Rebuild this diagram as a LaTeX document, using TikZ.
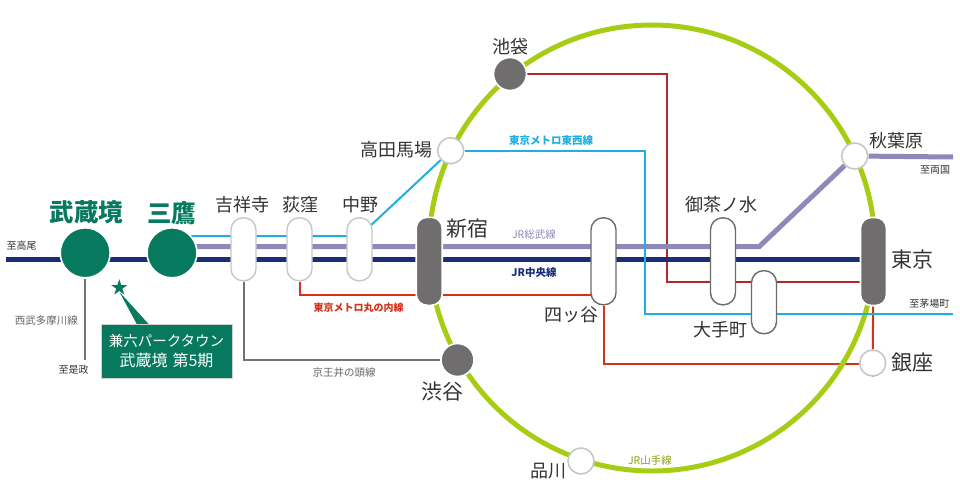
\documentclass[tikz,border=0pt]{standalone}
\usepackage{fontspec}
\setmainfont{Noto Sans CJK JP}
\usetikzlibrary{shapes.geometric,backgrounds}
\definecolor{ringgreen}{HTML}{A6CC14}
\definecolor{sitegreen}{HTML}{07795F}
\definecolor{chuonavy}{HTML}{1A2E78}
\definecolor{sobupurple}{HTML}{8F88B9}
\definecolor{tozaicyan}{HTML}{1FAEE0}
\definecolor{marured}{HTML}{D2321E}
\definecolor{ikered}{HTML}{B5262C}
\definecolor{hubgray}{HTML}{6F6D6E}
\definecolor{inkgray}{HTML}{333333}
\tikzset{
  stopdot/.style={circle,inner sep=0pt,minimum size=26pt,fill=white,draw=black!22,line width=1.6pt},
  hubdot/.style={circle,inner sep=0pt,minimum size=33pt,fill=hubgray,draw=white,line width=1.6pt},
  homedot/.style={circle,inner sep=0pt,minimum size=50pt,fill=sitegreen,draw=white,line width=1.6pt},
  pillbox/.style={rectangle,rounded corners=12pt,inner sep=0pt,minimum width=25pt,minimum height=63pt,fill=white,draw=black!22,line width=1.4pt},
  darkpill/.style={pillbox,draw=black!58},
  hubpill/.style={rectangle,rounded corners=11pt,inner sep=0pt,minimum width=26pt,minimum height=88pt,fill=hubgray,draw=white,line width=1.6pt},
  stationname/.style={inner sep=0pt,font=\fontsize{18}{18}\selectfont,text=inkgray},
  hubname/.style={inner sep=0pt,font=\fontsize{21}{21}\selectfont,text=inkgray},
  homename/.style={inner sep=0pt,font=\fontsize{24.5}{24.5}\selectfont\bfseries,text=sitegreen},
  endname/.style={inner sep=0pt,font=\fontsize{10}{10}\selectfont,text=inkgray},
  linename/.style={inner sep=0pt,font=\fontsize{10.5}{10.5}\selectfont}
}
\begin{document}
\begin{tikzpicture}[x=1pt,y=-1pt]
            \useasboundingbox (0,0) rectangle (960,500);
            \coordinate (ringc) at (652,248);
            \coordinate (takao) at (6,259.5);
            \coordinate (sobuw) at (172,246.5);
            \coordinate (tozaiw) at (172,236);
            \coordinate (sobubend) at (759.3,246.5);
            \coordinate (ryogoku) at (953,157);
            \coordinate (tozaibend) at (645,150.7);
            \coordinate (kayabacho) at (953,314);
            \coordinate (korekawa) at (85.2,360);
            \coordinate (ikebend) at (667,74);
            \coordinate (ikeend) at (873.5,282);
            \coordinate (marubend) at (299.5,295.3);
            \coordinate (yotsubend) at (603.5,364);
            \coordinate (keiobend) at (243.5,360);
            \coordinate (boxtipa) at (137,324.5);
            \coordinate (boxtipb) at (149,324.5);
            \coordinate (startip) at (119.5,292);
            %
            \node[homedot] (musashi) at (85.2,252.8) {};
            \node[homedot] (mitaka) at (172,252.8) {};
            \node[pillbox] (kichi) at (243.5,249.3) {};
            \node[pillbox] (ogi) at (299.5,249.3) {};
            \node[pillbox] (nakano) at (359.5,249.3) {};
            \node[hubpill] (shinjuku) at (429.2,261.3) {};
            \node[darkpill,minimum height=87pt] (yotsuya) at (603.5,261.3) {};
            \node[darkpill,minimum height=87pt] (ocha) at (723,261.3) {};
            \node[darkpill] (otemachi) at (764,302.2) {};
            \node[hubpill] (tokyo) at (873.5,261.5) {};
            \node[stopdot] (baba) at (450.7,150.7) {};
            \node[stopdot] (aki) at (854.7,156) {};
            \node[stopdot] (ginza) at (872.7,363) {};
            \node[stopdot] (shinagawa) at (581,461) {};
            \node[hubdot] (ikebukuro) at (510,74) {};
            \node[hubdot] (shibuya) at (457.5,360) {};
            %
            \begin{scope}[on background layer]
            \draw[marured,line width=2pt] (yotsuya) -- (yotsubend) -- (yotsubend -| ginza) -- (ginza);
            \draw[ringgreen,line width=5pt] (ringc) circle (223);
            \draw[marured,line width=2pt] (ogi) -- (marubend) -- (marubend -| yotsuya);
            \draw[marured,line width=2pt] (ginza) -- (tokyo);
            \draw[ikered,line width=2pt] (ikebukuro) -- (ikebend) -- (ikebend |- ikeend) -- (ikeend);
            \draw[chuonavy,line width=5pt] (takao) -- (takao -| tokyo);
            \draw[sobupurple,line width=5pt] (sobuw) -- (sobubend) -- (aki);
            \draw[sobupurple,line width=5pt] (aki) -- (ryogoku);
            \draw[tozaicyan,line width=2pt] (tozaiw) -- (tozaiw -| nakano) -- (baba);
            \draw[tozaicyan,line width=2pt] (baba) -- (tozaibend) -- (tozaibend |- kayabacho) -- (kayabacho);
            \draw[black!55,line width=2pt] (kichi) -- (keiobend) -- (shibuya);
            \draw[black!55,line width=2pt] (musashi) -- (korekawa);
            \end{scope}
            %
            \node[homename] (musashiname) at (86.3,212.7) {武蔵境};
            \node[homename] (mitakaname) at (171.7,213) {三鷹};
            \node[stationname] (kichiname) at (242.3,205) {吉祥寺};
            \node[stationname] (oginame) at (300,205) {荻窪};
            \node[stationname] (nakanoname) at (360,205) {中野};
            \node[stationname] (babaname) at (396.7,149.3) {高田馬場};
            \node[stationname] (ikename) at (510,47) {池袋};
            \node[stationname] (yotsuname) at (571.7,315) {四ッ谷};
            \node[stationname] (shinaname) at (548,471) {品川};
            \node[stationname] (akiname) at (896,140.7) {秋葉原};
            \node[stationname] (ochaname) at (721.7,205) {御茶ノ水};
            \node[stationname] (otename) at (720,330) {大手町};
            \node[hubname] (shinjukuname) at (467.3,228.3) {新宿};
            \node[hubname] (shibuname) at (442.7,391.7) {渋谷};
            \node[hubname] (tokyoname) at (912,260) {東京};
            \node[hubname] (ginzaname) at (912.7,362.7) {銀座};
            %
            \node[endname] (takaoname) at (21.7,245.5) {至高尾};
            \node[endname] (korename) at (73.7,370) {至是政};
            \node[endname] (ryoname) at (935,170) {至両国};
            \node[endname] (kayaname) at (929.3,304) {至茅場町};
            \node[linename,text=black!60] (seibuname) at (46.3,320.7) {西武多摩川線};
            \node[linename,text=black!60] (keioname) at (344,372.3) {京王井の頭線};
            \node[linename,text=tozaicyan,font=\fontsize{10.5}{10.5}\selectfont\bfseries] (tozainame) at (551,140) {東京メトロ東西線};
            \node[linename,text=sobupurple] (sobuname) at (534,235) {JR総武線};
            \node[linename,text=chuonavy,font=\fontsize{10.5}{10.5}\selectfont\bfseries] (chuoname) at (534,272.7) {JR中央線};
            \node[linename,text=marured,font=\fontsize{10}{10}\selectfont\bfseries] (maruname) at (358.7,307.3) {東京メトロ丸の内線};
            \node[linename,text=ringgreen!80!black] (yamaname) at (650,460) {JR山手線};
            %
            \node[star,star points=5,star point ratio=2.6,inner sep=0pt,minimum size=17pt,fill=sitegreen] (sitestar) at (119.3,287.7) {};
            \fill[sitegreen] (startip) -- (boxtipa) -- (boxtipb) -- cycle;
            \node[rectangle,fill=sitegreen,draw=black!18,line width=.6pt,minimum width=131pt,minimum height=54pt,inner sep=0pt,
              align=center,text=white,font=\fontsize{14.5}{20}\selectfont] (sitebox) at (166.5,351) {兼六パークタウン\\{\fontsize{16}{20}\selectfont 武蔵境\hspace{5pt}第5期}};
\end{tikzpicture}
\end{document}
